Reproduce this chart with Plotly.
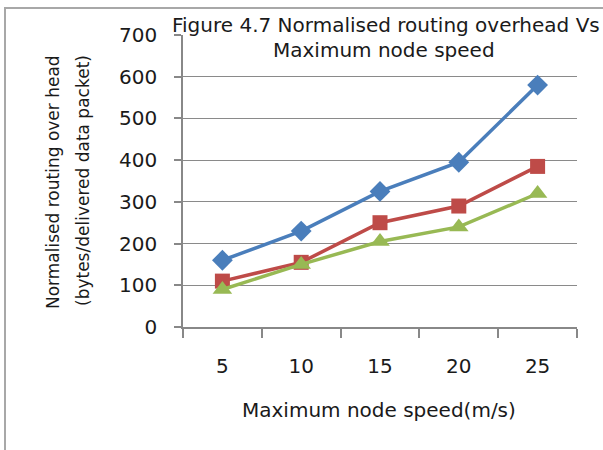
import plotly.graph_objects as go

categories = ["5", "10", "15", "20", "25"]
series_a = [160, 230, 325, 395, 580]
series_b = [110, 155, 250, 290, 385]
series_c = [90, 150, 205, 240, 320]
title_lines = ["Figure 4.7 Normalised routing overhead Vs", "Maximum node speed"]
y_title_lines = ["Normalised routing over head", "(bytes/delivered data packet)"]
x_title = "Maximum node speed(m/s)"

FONT = "DejaVu Sans"
TXT = "#1a1a1a"

fig = go.Figure()
fig.add_trace(go.Scatter(x=categories, y=series_a, mode="lines+markers",
                         line=dict(color="#4A7EBB", width=3.5),
                         marker=dict(symbol="diamond", size=16, color="#4A7EBB"),
                         showlegend=False))
fig.add_trace(go.Scatter(x=categories, y=series_b, mode="lines+markers",
                         line=dict(color="#BE4B48", width=3.5),
                         marker=dict(symbol="square", size=15, color="#BE4B48"),
                         showlegend=False))
fig.add_trace(go.Scatter(x=categories, y=series_c, mode="lines+markers",
                         line=dict(color="#98B954", width=3.5),
                         marker=dict(symbol="triangle-up", size=17, color="#98B954"),
                         showlegend=False))

L, R, T, B = 183, 26, 35, 123
pw = 603 - L - R
ph = 450 - T - B

def px_x(p):
    return (p - L) / pw

def px_y(p):
    return (450 - B - p) / ph

fig.update_layout(
    width=603, height=450,
    margin=dict(l=L, r=R, t=T, b=B, autoexpand=False),
    paper_bgcolor="white", plot_bgcolor="white",
    font=dict(family=FONT, size=20, color=TXT),
    xaxis=dict(type="category", range=[-0.5, len(categories) - 0.5],
               tickson="boundaries", ticks="outside", ticklen=9,
               tickcolor="#888888", tickwidth=1.5, showline=True, linecolor="#888888",
               linewidth=1.5, showgrid=False, ticklabelstandoff=20,
               tickfont=dict(size=20, color=TXT)),
    yaxis=dict(range=[0, 700], dtick=100, ticks="outside", ticklen=7,
               tickcolor="#888888", tickwidth=1.5, showline=True, linecolor="#888888",
               linewidth=1.5, showgrid=True, gridcolor="#8a8a8a", gridwidth=1.2,
               zeroline=False, ticklabelstandoff=13,
               tickfont=dict(size=20, color=TXT)),
    shapes=[dict(type="rect", xref="paper", yref="paper",
                 x0=px_x(5), x1=px_x(620), y0=px_y(470), y1=px_y(8),
                 line=dict(color="#A8A8A8", width=2), fillcolor="rgba(0,0,0,0)",
                 layer="below")],
    annotations=[
        dict(text=title_lines[0], xref="paper", yref="paper",
             x=px_x(386), y=px_y(25), xanchor="center", yanchor="middle",
             showarrow=False, font=dict(family=FONT, size=20, color=TXT)),
        dict(text=title_lines[1], xref="paper", yref="paper",
             x=px_x(384), y=px_y(50), xanchor="center", yanchor="middle",
             showarrow=False, font=dict(family=FONT, size=20, color=TXT)),
        dict(text=y_title_lines[0],
             xref="paper", yref="paper", x=px_x(53), y=px_y(182),
             xanchor="center", yanchor="middle", textangle=-90, showarrow=False,
             font=dict(family=FONT, size=17, color=TXT)),
        dict(text=y_title_lines[1],
             xref="paper", yref="paper", x=px_x(83), y=px_y(181),
             xanchor="center", yanchor="middle", textangle=-90, showarrow=False,
             font=dict(family=FONT, size=17, color=TXT)),
        dict(text=x_title, xref="paper", yref="paper",
             x=px_x(379), y=px_y(410), xanchor="center", yanchor="middle",
             showarrow=False, font=dict(family=FONT, size=20, color=TXT)),
    ],
)

fig.write_html("out.html", config={"displayModeBar": False},
               post_script="document.body.style.margin='0px';")
